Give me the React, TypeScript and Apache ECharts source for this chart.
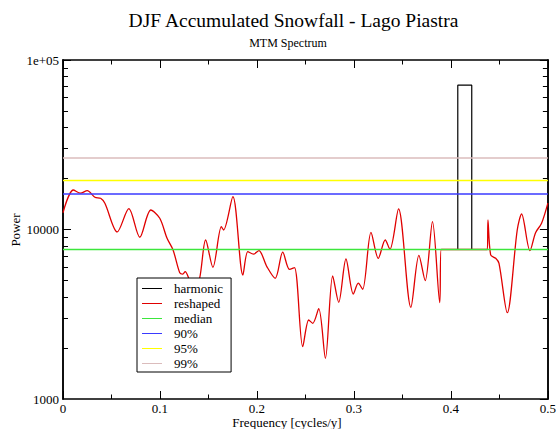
import React, { useEffect, useRef } from "react";
import * as echarts from "echarts";

// Reshaped MTM spectrum (frequency in cycles/y, power)
const reshapedFreq = [
  0.0, 0.0106, 0.018, 0.025, 0.0329, 0.0388, 0.0432, 0.0559, 0.0679, 0.0792,
  0.0905, 0.0998, 0.1073, 0.1135, 0.1204, 0.1235, 0.126, 0.13, 0.135, 0.1409,
  0.1471, 0.1546, 0.1633, 0.1656, 0.1752, 0.1855, 0.1906, 0.1965, 0.202, 0.2102,
  0.2188, 0.2266, 0.2335, 0.2387, 0.2472, 0.2534, 0.2575, 0.2637, 0.2706, 0.2781,
  0.2843, 0.2918, 0.2994, 0.3045, 0.309, 0.3176, 0.3251, 0.3323, 0.3371, 0.346,
  0.3587, 0.367, 0.3735, 0.381, 0.3885, 0.39, 0.4376, 0.4382, 0.441, 0.4462,
  0.4496, 0.4581, 0.4684, 0.4729, 0.4815, 0.4873, 0.4935, 0.5,
];
const reshapedPower = [
  12560, 17100, 16370, 16940, 15490, 15280, 14290, 9670, 13270, 9000,
  13030, 11650, 8870, 7570, 5550, 5450, 5650, 5100, 4300, 5150,
  8670, 5980, 10390, 9930, 15610, 5390, 7400, 7160, 7500, 6040,
  5150, 7360, 5820, 5960, 2035, 2925, 2797, 3412, 1738, 5320,
  3720, 6700, 4160, 4820, 4440, 9620, 6760, 8670, 7640, 13220,
  3470, 7030, 4990, 11120, 3700, 7620, 7620, 11380, 7080, 6760,
  6310, 3230, 9930, 12340, 7500, 9580, 10880, 14300,
];

// Harmonic spectrum where it differs from the reshaped one (line component)
const harmonicFreq = [0.39, 0.4071, 0.4071, 0.4215, 0.4215, 0.4376];
const harmonicPower = [7620, 7620, 71000, 71000, 7620, 7620];

// Confidence levels
const levelNames = ["median", "90%", "95%", "99%"];
const levelValues = [7620, 16180, 19450, 26400];
const levelColors = ["#3ce63c", "#3a3aff", "#ffff00", "#dbbcbc"];

const freqRange = [0, 0.5];
const yMajor = [1000, 10000, 100000];
const yMinor = [
  2000, 3000, 4000, 5000, 6000, 7000, 8000, 9000,
  20000, 30000, 40000, 50000, 60000, 70000, 80000, 90000,
];

const FONT = "Liberation Serif";

export default function App() {
  const ref = useRef<HTMLDivElement>(null);
  useEffect(() => {
    if (!ref.current) return;
    const chart = echarts.init(ref.current, undefined, { renderer: "svg" });
    const yBase = {
      type: "log",
      logBase: 10,
      min: 1000,
      max: 100000,
      splitLine: { show: false },
      axisLine: { show: true, lineStyle: { color: "#000", width: 1.5 } },
    };
    const yAxes = [
      {
        ...yBase,
        position: "left",
        axisTick: { show: true, inside: true, length: 8, lineStyle: { color: "#000" }, customValues: yMajor },
        axisLabel: {
          show: true,
          margin: 4,
          fontSize: 13,
          fontFamily: FONT,
          color: "#000",
          formatter: (v: number) => (v >= 100000 ? "1e+05" : String(Math.round(v))),
        },
      },
      {
        ...yBase,
        position: "left",
        axisTick: { show: true, inside: true, length: 5, lineStyle: { color: "#000" }, customValues: yMinor },
        axisLabel: { show: false },
      },
      {
        ...yBase,
        position: "right",
        axisTick: { show: true, inside: true, length: 8, lineStyle: { color: "#000" }, customValues: yMajor },
        axisLabel: { show: false },
      },
      {
        ...yBase,
        position: "right",
        axisTick: { show: true, inside: true, length: 5, lineStyle: { color: "#000" }, customValues: yMinor },
        axisLabel: { show: false },
      },
    ];
    const xBase = {
      type: "value",
      min: freqRange[0],
      max: freqRange[1],
      interval: 0.1,
      splitLine: { show: false },
      axisLine: { show: true, lineStyle: { color: "#000", width: 1.5 } },
      axisTick: { show: true, inside: true, length: 8, lineStyle: { color: "#000" } },
      minorTick: { show: true, splitNumber: 2, length: 4.5, lineStyle: { color: "#000" } },
    };
    const xAxes = [
      {
        ...xBase,
        position: "bottom",
        axisLabel: {
          show: true,
          margin: 3,
          fontSize: 13,
          fontFamily: FONT,
          color: "#000",
          formatter: (v: number) => String(Math.round(v * 10) / 10),
        },
      },
      { ...xBase, position: "top", axisLabel: { show: false } },
    ];

    const lineSeries = (name: string, data: number[][], color: string, width: number, smooth: number | boolean) => ({
      name,
      type: "line",
      xAxisIndex: 0,
      yAxisIndex: 0,
      data,
      symbol: "none",
      smooth,
      color,
      lineStyle: { color, width },
    });

    const series: any[] = [
      lineSeries("harmonic", harmonicFreq.map((f, i) => [f, harmonicPower[i]]), "#000000", 1.2, false),
      lineSeries("reshaped", reshapedFreq.map((f, i) => [f, reshapedPower[i]]), "#e00000", 1.3, 0.3),
      ...levelNames.map((n, i) =>
        lineSeries(n, [[freqRange[0], levelValues[i]], [freqRange[1], levelValues[i]]], levelColors[i], 1.5, false)
      ),
    ];

    chart.setOption({
      animation: false,
      backgroundColor: "#fff",
      textStyle: { fontFamily: FONT },
      grid: { left: 63, right: 10, top: 60, bottom: 30, containLabel: false },
      xAxis: xAxes,
      yAxis: yAxes,
      legend: {
        orient: "vertical",
        left: 137,
        top: 278,
        padding: [4, 8, 2, 5],
        itemWidth: 20,
        itemHeight: 13,
        itemGap: 2,
        backgroundColor: "#fff",
        borderColor: "#000",
        borderWidth: 1,
        borderRadius: 0,
        icon: "path://M0,6 L20,6 L20,7 L0,7 Z",
        data: ["harmonic", "reshaped", ...levelNames],
        textStyle: { fontSize: 13, fontFamily: FONT, color: "#000", padding: [0, 0, 0, 7] },
      },
      graphic: [
        {
          type: "text",
          x: 293.5,
          y: 20.7,
          style: {
            text: "DJF Accumulated Snowfall - Lago Piastra",
            fontSize: 19.5,
            fontFamily: FONT,
            fill: "#000",
            textAlign: "center",
            textVerticalAlign: "middle",
          },
        },
        {
          type: "text",
          x: 288,
          y: 43,
          style: {
            text: "MTM Spectrum",
            fontSize: 12,
            fontFamily: FONT,
            fill: "#000",
            textAlign: "center",
            textVerticalAlign: "middle",
          },
        },
        {
          type: "text",
          x: 287,
          y: 422.5,
          style: {
            text: "Frequency [cycles/y]",
            fontSize: 13,
            fontFamily: FONT,
            fill: "#000",
            textAlign: "center",
            textVerticalAlign: "middle",
          },
        },
        {
          type: "text",
          x: 15.3,
          y: 230,
          rotation: Math.PI / 2,
          style: {
            text: "Power",
            fontSize: 13,
            fontFamily: FONT,
            fill: "#000",
            textAlign: "center",
            textVerticalAlign: "middle",
          },
        },
      ],
      series,
    });
    return () => chart.dispose();
  }, []);
  return (
    <div
      ref={ref}
      style={{ position: "fixed", left: 0, top: 0, width: 559, height: 429 }}
    />
  );
}
